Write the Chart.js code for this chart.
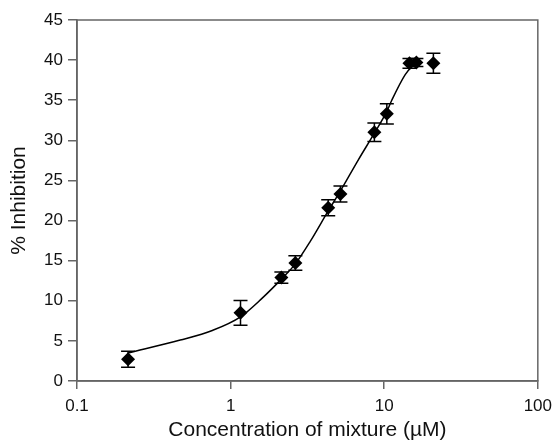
<!DOCTYPE html>
<html>
<head>
<meta charset="utf-8">
<script src="https://cdn.jsdelivr.net/npm/chart.js@4"></script>
<style>
  html, body { margin: 0; padding: 0; background: #fff; }
  #wrap { width: 559px; height: 443px; }
</style>
</head>
<body>
<div id="wrap"><canvas id="c"></canvas></div>
<script>
// measured points (concentration in uM, % inhibition, error)
const concentrations = [0.215, 1.16, 2.14, 2.64, 4.32, 5.19, 8.63, 10.4, 14.6, 16.2, 20.9];
const inhibition = [2.7, 8.5, 12.9, 14.7, 21.6, 23.3, 31.0, 33.3, 39.6, 39.7, 39.6];
const errors = [1.0, 1.55, 0.7, 0.9, 1.0, 1.0, 1.15, 1.25, 0.6, 0.5, 1.25];

// fitted curve
const curveX = [0.215, 0.47, 0.76, 1.16, 1.6, 2.14, 2.64, 3.3, 4.32, 5.19, 6.8, 8.63, 10.4, 11.2, 13.7, 16.0];
const curveY = [3.5, 5.1, 6.3, 8.0, 10.3, 12.7, 14.6, 17.4, 21.2, 23.7, 27.6, 30.9, 33.6, 35.0, 38.2, 39.7];

const xTicks = [0.1, 1, 10, 100];

const errorBars = {
  id: 'errorBars',
  afterDatasetsDraw(chart) {
    const { ctx, scales: { x, y } } = chart;
    ctx.save();
    ctx.strokeStyle = '#000';
    ctx.lineWidth = 1.5;
    concentrations.forEach((c, i) => {
      const px = x.getPixelForValue(c);
      const top = y.getPixelForValue(inhibition[i] + errors[i]);
      const bot = y.getPixelForValue(inhibition[i] - errors[i]);
      ctx.beginPath();
      ctx.moveTo(px, top); ctx.lineTo(px, bot);
      ctx.moveTo(px - 7, top); ctx.lineTo(px + 7, top);
      ctx.moveTo(px - 7, bot); ctx.lineTo(px + 7, bot);
      ctx.stroke();
    });
    ctx.restore();
  }
};

const frame = {
  id: 'frame',
  afterDraw(chart) {
    const { ctx, chartArea: a } = chart;
    ctx.save();
    ctx.strokeStyle = '#666';
    ctx.lineWidth = 1.5;
    ctx.strokeRect(a.left, a.top, a.right - a.left, a.bottom - a.top);
    ctx.restore();
  }
};

new Chart(document.getElementById('c'), {
  type: 'scatter',
  data: {
    datasets: [
      {
        data: curveX.map((v, i) => ({ x: v, y: curveY[i] })),
        showLine: true,
        borderColor: '#000',
        borderWidth: 1.5,
        pointRadius: 0,
        cubicInterpolationMode: 'monotone',
        order: 2
      },
      {
        data: concentrations.map((v, i) => ({ x: v, y: inhibition[i] })),
        pointStyle: 'rectRot',
        pointRadius: 7,
        backgroundColor: '#000',
        borderColor: '#000',
        borderWidth: 0,
        order: 1
      }
    ]
  },
  options: {
    responsive: true,
    maintainAspectRatio: false,
    animation: false,
    events: [],
    layout: { padding: { top: 20, right: 19, left: 0, bottom: 0 } },
    plugins: { legend: { display: false }, tooltip: { enabled: false } },
    scales: {
      x: {
        type: 'logarithmic',
        min: 0.1,
        max: 100,
        afterBuildTicks: (axis) => { axis.ticks = xTicks.map(v => ({ value: v })); },
        afterFit: (axis) => { axis.height = 62; },
        ticks: {
          color: '#111',
          font: { family: 'Liberation Sans', size: 17 },
          padding: 7,
          maxRotation: 0,
          callback: (v) => String(v)
        },
        grid: { drawOnChartArea: false, tickLength: 8, color: '#666', lineWidth: 1.5 },
        border: { color: '#666', width: 1.5 },
        title: {
          display: true,
          text: 'Concentration of mixture (\u00b5M)',
          color: '#111',
          font: { family: 'Liberation Sans', size: 21 },
          padding: { top: 0, bottom: 0 }
        }
      },
      y: {
        min: 0,
        max: 45,
        afterFit: (axis) => { axis.width = 77; },
        ticks: {
          stepSize: 5,
          color: '#111',
          font: { family: 'Liberation Sans', size: 17 },
          padding: 5
        },
        grid: { drawOnChartArea: false, tickLength: 9, color: '#666', lineWidth: 1.5 },
        border: { color: '#666', width: 1.5 },
        title: {
          display: true,
          text: '% Inhibition',
          color: '#111',
          font: { family: 'Liberation Sans', size: 21 },
          padding: { top: 7, bottom: 0 }
        }
      }
    }
  },
  plugins: [errorBars, frame]
});
</script>
</body>
</html>
